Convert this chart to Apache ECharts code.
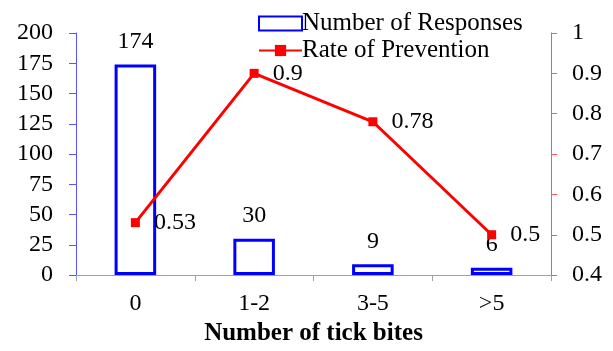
<!DOCTYPE html>
<html><head><meta charset="utf-8">
<script src="https://cdn.jsdelivr.net/npm/echarts@6/dist/echarts.min.js"></script>
<style>html,body{margin:0;padding:0;background:#fff}#c{width:613px;height:351px}</style>
</head><body><div id="c"></div>
<script>
const categories = ['0', '1-2', '3-5', '>5'];
const responses = [174, 30, 9, 6];
const prevention = [0.53, 0.9, 0.78, 0.5];
const leftTicks = {min: 0, max: 200, interval: 25};
const rightTicks = {min: 0.4, max: 1, interval: 0.1};

const FONT = 'Liberation Serif';
const chart = echarts.init(document.getElementById('c'));
chart.setOption({
  animation: false,
  backgroundColor: '#fff',
  textStyle: {fontFamily: FONT, color: '#000'},
  grid: {left: 76, right: 62, top: 33, bottom: 73, containLabel: false},
  legend: {
    orient: 'vertical', left: 253, top: 6, itemGap: 2,
    itemWidth: 43, itemHeight: 14,
    textStyle: {fontFamily: FONT, fontSize: 25, color: '#000', padding: [0,0,0,-5]},
    data: [{name: 'Number of Responses', icon: 'rect'}, {name: 'Rate of Prevention'}]
  },
  xAxis: {
    type: 'category', data: categories,
    axisLine: {lineStyle: {color: '#a0a0a0', width: 1}},
    axisTick: {show: true, length: 6, lineStyle: {color: '#a0a0a0'}},
    axisLabel: {fontFamily: FONT, fontSize: 24, color: '#000', margin: 17},
    name: 'Number of tick bites', nameLocation: 'middle', nameGap: 45,
    nameTextStyle: {fontFamily: FONT, fontSize: 25, fontWeight: 'bold', color: '#000'}
  },
  yAxis: [{
    type: 'value', min: leftTicks.min, max: leftTicks.max, interval: leftTicks.interval,
    axisLine: {show: true, lineStyle: {color: '#5555ff', width: 1}},
    axisTick: {show: true, length: 7, lineStyle: {color: '#5555ff'}},
    splitLine: {show: false},
    axisLabel: {fontFamily: FONT, fontSize: 24, color: '#000', margin: 23}
  }, {
    type: 'value', min: rightTicks.min, max: rightTicks.max, interval: rightTicks.interval,
    position: 'right',
    axisLine: {show: true, lineStyle: {color: '#ff5555', width: 1}},
    axisTick: {show: true, length: 6, lineStyle: {color: '#ff5555'}},
    splitLine: {show: false},
    axisLabel: {fontFamily: FONT, fontSize: 24, color: '#000', margin: 21}
  }],
  series: [{
    name: 'Number of Responses', type: 'bar', yAxisIndex: 0,
    data: responses, barWidth: '35%',
    itemStyle: {color: '#fff', borderColor: '#0000ff', borderWidth: 3},
    label: {show: true, position: 'top', distance: 11, fontFamily: FONT, fontSize: 24, color: '#000'}
  }, {
    name: 'Rate of Prevention', type: 'line', yAxisIndex: 1,
    data: prevention,
    lineStyle: {color: '#ff0000', width: 3},
    itemStyle: {color: '#ff0000'},
    symbol: 'rect', symbolSize: 9,
    label: {show: true, position: 'right', distance: 14, fontFamily: FONT, fontSize: 24, color: '#000'}
  }]
});
</script></body></html>
